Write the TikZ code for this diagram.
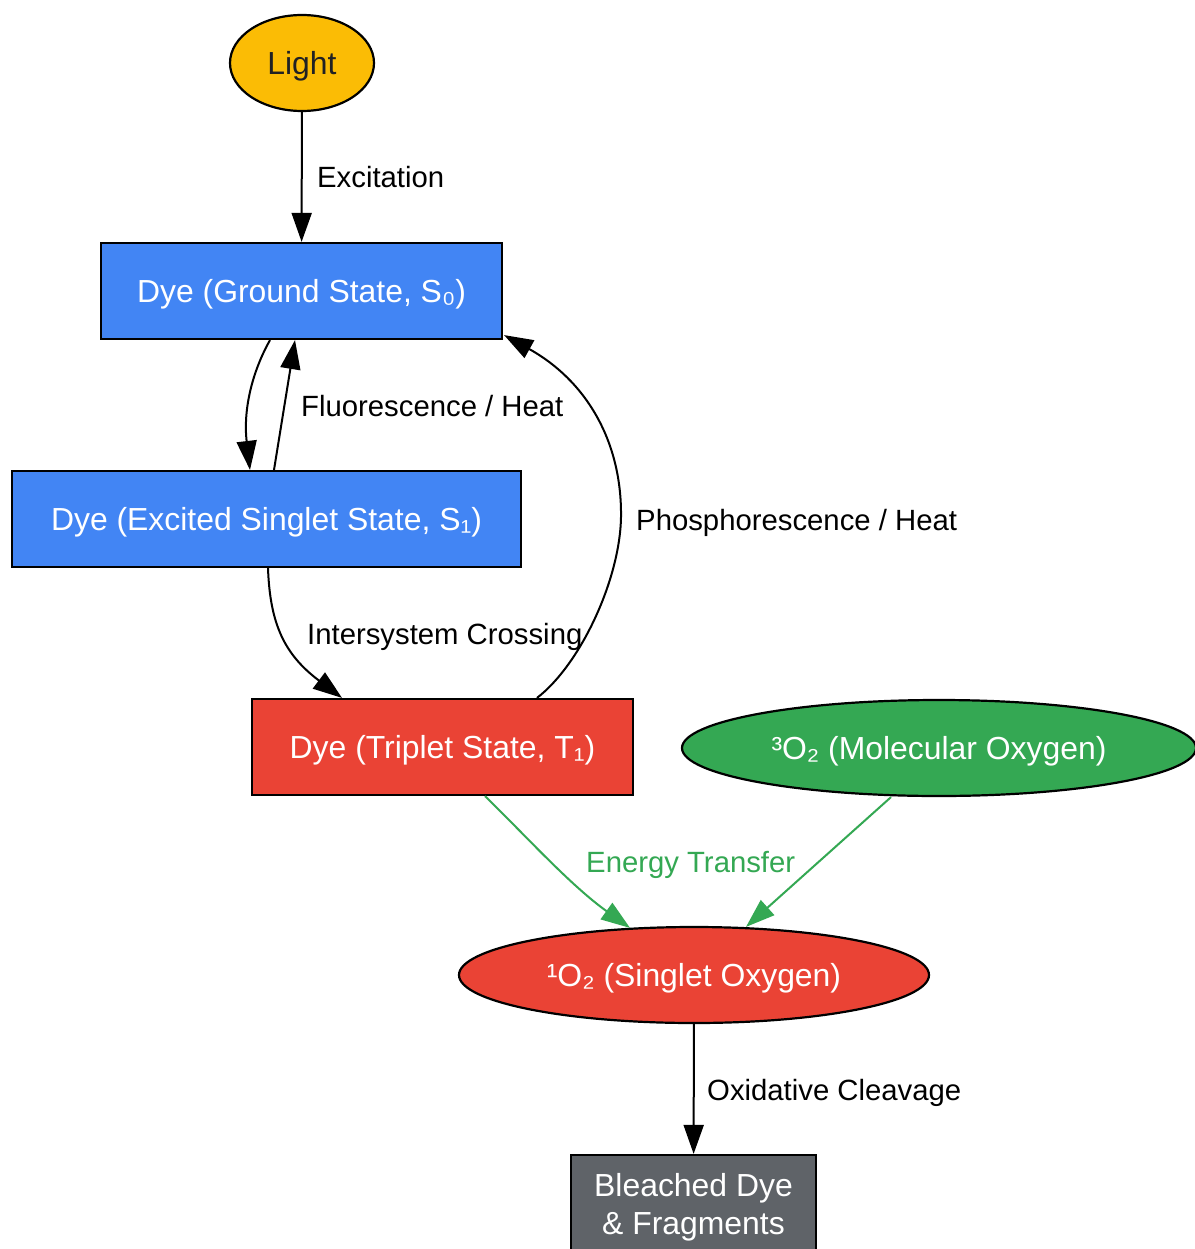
\documentclass[tikz,border=0pt]{standalone}
\usepackage{fontspec}
\setmainfont{Liberation Sans}
\usetikzlibrary{arrows.meta,shapes.geometric,calc}
\definecolor{gblue}{HTML}{4285F4}
\definecolor{gred}{HTML}{EA4335}
\definecolor{ggreen}{HTML}{34A853}
\definecolor{gyellow}{HTML}{FBBC05}
\definecolor{ggray}{HTML}{5F6368}
\definecolor{gdark}{HTML}{202124}
\begin{document}
\begin{tikzpicture}[x=1pt,y=-1pt,
  nodefont/.style={font=\fontsize{31.9}{38}\selectfont},
  box/.style={draw=black,line width=2.2pt,rectangle,inner sep=0pt,minimum height=96pt,text=white,nodefont,text height=22.8pt,text depth=0pt},
  oval/.style={draw=black,line width=2.2pt,ellipse,inner sep=0pt,minimum height=96pt,text=white,nodefont,text height=22.8pt,text depth=0pt},
  arr/.style={line width=2pt,-{Triangle[length=29pt,width=20pt]}},
  garr/.style={arr,draw=ggreen,-{Triangle[length=29pt,width=20pt,fill=ggreen]}},
  lbl/.style={anchor=base west,inner sep=0pt,font=\fontsize{29.3}{35}\selectfont}]
\useasboundingbox (0,0) rectangle (1194,1249);
\fill[white] (0,0) rectangle (1194,1249);
% nodes
\node[oval,fill=gyellow,text=gdark,minimum width=144pt] (light) at (302,63) {Light};
\node[box,fill=gblue,minimum width=401pt] (s0) at (301.5,291) {Dye (Ground State, S₀)};
\node[box,fill=gblue,minimum width=509pt] (s1) at (266.5,519) {Dye (Excited Singlet State, S₁)};
\node[box,fill=gred,minimum width=381pt] (t1) at (442.5,747) {Dye (Triplet State, T₁)};
\node[oval,fill=ggreen,minimum width=514pt] (o3) at (939,748) {³O₂ (Molecular Oxygen)};
\node[oval,fill=gred,minimum width=470pt] (o1) at (694,975) {¹O₂ (Singlet Oxygen)};
\node[draw=black,line width=2.2pt,rectangle,inner sep=0pt,minimum width=245pt,minimum height=104pt,fill=ggray,text=white,nodefont,align=center] (bl) at (693.5,1207) {Bleached Dye\\\& Fragments};
% edges
\draw[arr] (light) -- (s0);
\draw[arr] ($(s0.south)+(-31.5,0)$) .. controls (252,372) and (243,410) .. ($(s1.north)+(-16.5,0)$);
\draw[arr] ($(s1.north)+(7.5,0)$) -- ($(s0.south)+(-6.5,0)$);
\draw[arr] ($(s1.south)+(1.5,0)$) .. controls (270,625) and (285,655) .. ($(t1.north)+(-100.5,0)$);
\draw[arr] ($(t1.north)+(94.5,0)$) .. controls (580,665) and (620,580) .. (621,517)
  .. controls (622,440) and (585,380) .. ($(s0.south east)+(1,-5)$);
\draw[garr] ($(t1.south)+(42.5,0)$) .. controls (525,835) and (570,885) .. ($(o1.north)+(-64,2)$);
\draw[garr] ($(o3.south)+(-48,0)$) -- ($(o1.north)+(52,1)$);
\draw[arr] (o1) -- (bl);
% labels
\node[lbl] (lexc) at (317,188) {Excitation};
\node[lbl] (lflu) at (301,416) {Fluorescence / Heat};
\node[lbl] (lisc) at (307,644) {Intersystem Crossing};
\node[lbl] (lpho) at (636,530) {Phosphorescence / Heat};
\node[lbl,text=ggreen] (lene) at (586,872) {Energy Transfer};
\node[lbl] (loxi) at (707,1100) {Oxidative Cleavage};
\end{tikzpicture}
\end{document}
